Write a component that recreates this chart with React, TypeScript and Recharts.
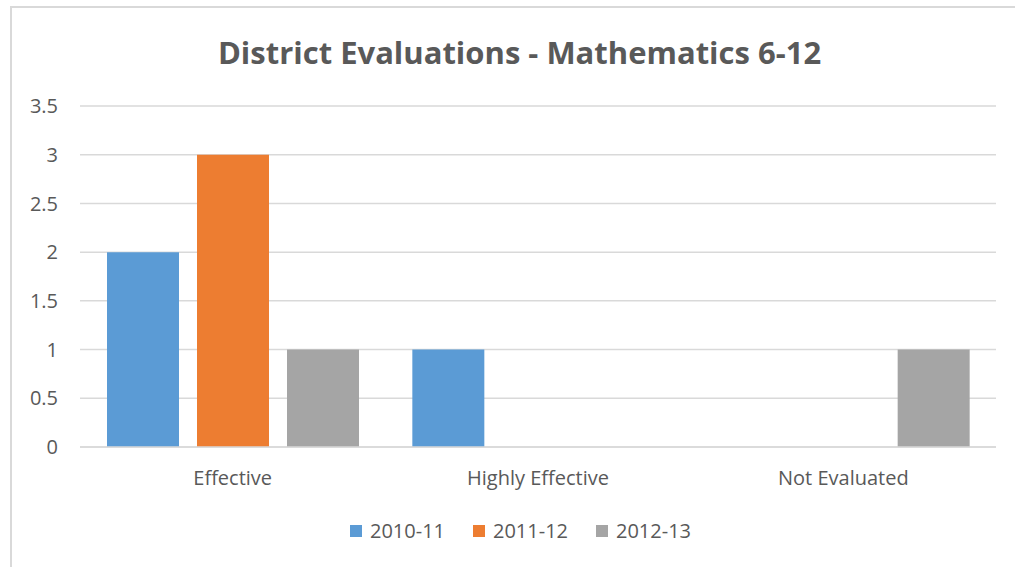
import React from "react";
import { BarChart, Bar, XAxis, YAxis, CartesianGrid, Legend } from "recharts";

const categories = ["Effective", "Highly Effective", "Not Evaluated"];
const y2010 = [2, 1, 0];
const y2011 = [3, 0, 0];
const y2012 = [1, 0, 1];
const yTicks = [0, 0.5, 1, 1.5, 2, 2.5, 3, 3.5];

const series = [
  { key: "2010-11", values: y2010, color: "#5B9BD5" },
  { key: "2011-12", values: y2011, color: "#ED7D31" },
  { key: "2012-13", values: y2012, color: "#A5A5A5" },
];

const data = categories.map((name, i) => {
  const row: Record<string, string | number> = { name };
  series.forEach((s) => {
    row[s.key] = s.values[i];
  });
  return row;
});

const font = "'Open Sans', 'Noto Sans', sans-serif";
const textColor = "#595959";

// legend row drawn by hand so the spacing matches the original
const renderLegend = () => (
  <div style={{ display: "flex", paddingLeft: 350, paddingTop: 12, fontFamily: font, fontSize: 20, color: textColor }}>
    {series.map((s) => (
      <div key={s.key} style={{ display: "flex", alignItems: "center", width: 123 }}>
        <span style={{ width: 12, height: 12, background: s.color, marginRight: 8, display: "inline-block" }} />
        <span>{s.key}</span>
      </div>
    ))}
  </div>
);

export default function App() {
  return (
    <div style={{ position: "absolute", left: 0, top: 0, width: 1015, height: 567, background: "#fff", overflow: "hidden", fontFamily: font }}>
      <div style={{ position: "absolute", left: 10, top: 6, width: 1100, height: 700, border: "2px solid #D9D9D9", boxSizing: "border-box" }} />
      <div style={{ position: "absolute", left: 0, top: 31, width: 1039, textAlign: "center", fontSize: 31, lineHeight: "42px", fontWeight: 700, color: textColor }}>
        District Evaluations - Mathematics 6-12
      </div>
      <div style={{ position: "absolute", left: 0, top: 0 }}>
        <BarChart
          width={1015}
          height={567}
          data={data}
          margin={{ top: 106, right: 19, left: 20, bottom: 0 }}
          barGap={18}
          barSize={72}
        >
          <CartesianGrid vertical={false} stroke="#D9D9D9" strokeWidth={1.5} />
          <XAxis
            dataKey="name"
            height={58}
            tickLine={false}
            axisLine={{ stroke: "#D9D9D9", strokeWidth: 1.5 }}
            tick={{ fill: textColor, fontSize: 20, fontFamily: font }}
            tickMargin={18}
          />
          <YAxis
            width={60}
            domain={[0, 3.5]}
            ticks={yTicks}
            interval={0}
            tickLine={false}
            axisLine={false}
            tick={{ fill: textColor, fontSize: 20, fontFamily: font }}
            tickMargin={16}
          />
          <Legend
            verticalAlign="bottom"
            height={62}
            content={renderLegend}
            wrapperStyle={{ left: 0, width: 1015 }}
          />
          {series.map((s) => (
            <Bar key={s.key} dataKey={s.key} fill={s.color} isAnimationActive={false} />
          ))}
        </BarChart>
      </div>
    </div>
  );
}
